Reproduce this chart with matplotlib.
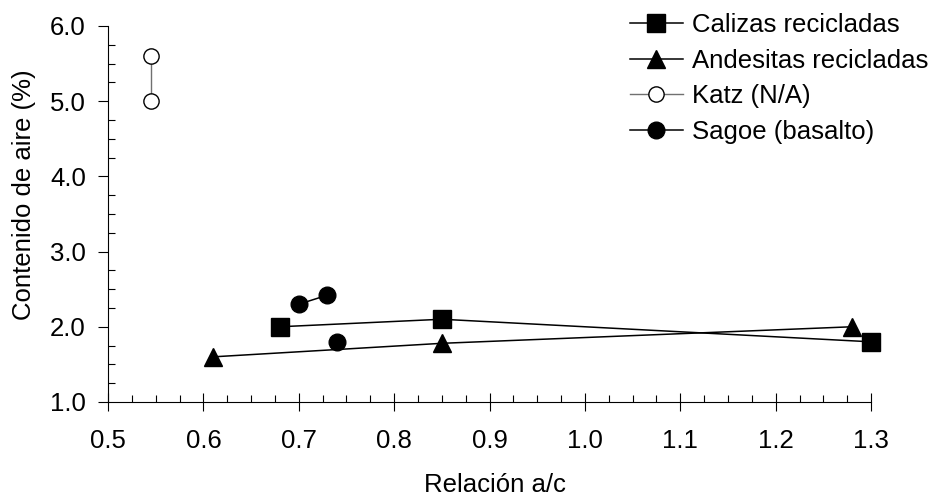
import numpy as np
import matplotlib
matplotlib.use("Agg")
import matplotlib.pyplot as plt
from matplotlib.ticker import MultipleLocator, FormatStrFormatter

plt.rcParams['font.family'] = ['Liberation Sans', 'DejaVu Sans']

# relacion a/c vs contenido de aire (%)
calizas_x = [0.68, 0.85, 1.30]
calizas_y = [2.0, 2.1, 1.8]

andesitas_x = [0.61, 0.85, 1.28]
andesitas_y = [1.6, 1.78, 2.0]

katz_x = [0.545, 0.545]
katz_y = [5.6, 5.0]

# NaN breaks the line before the last Sagoe point
sagoe_x = [0.70, 0.73, np.nan, 0.74]
sagoe_y = [2.3, 2.42, np.nan, 1.8]

FS = 18.5

fig = plt.figure(figsize=(9.36, 4.98), dpi=100)
ax = fig.add_axes([0.1154, 0.1928, 0.8152, 0.7552])

ax.plot(calizas_x, calizas_y, 'k-', marker='s', markersize=13, linewidth=1.1,
        label='Calizas recicladas', clip_on=False)
ax.plot(andesitas_x, andesitas_y, 'k-', marker='^', markersize=13, linewidth=1.1,
        label='Andesitas recicladas', clip_on=False)
ax.plot(katz_x, katz_y, '-', color='#707070', linewidth=1.0, marker='o',
        markersize=11, markerfacecolor='white', markeredgecolor='black',
        markeredgewidth=1.0, label='Katz (N/A)', clip_on=False)
ax.plot(sagoe_x, sagoe_y, 'k-', marker='o', markersize=12, linewidth=1.1,
        label='Sagoe (basalto)', clip_on=False)

ax.set_xlim(0.5, 1.3)
ax.set_ylim(1.0, 6.0)
ax.spines['top'].set_visible(False)
ax.spines['right'].set_visible(False)
ax.spines['left'].set_linewidth(0.8)
ax.spines['bottom'].set_linewidth(0.8)

ax.xaxis.set_major_locator(MultipleLocator(0.1))
ax.xaxis.set_minor_locator(MultipleLocator(0.025))
ax.yaxis.set_major_locator(MultipleLocator(1.0))
ax.yaxis.set_minor_locator(MultipleLocator(0.25))
ax.xaxis.set_major_formatter(FormatStrFormatter('%.1f'))
ax.yaxis.set_major_formatter(FormatStrFormatter('%.1f'))

ax.tick_params(axis='x', which='major', direction='inout', length=13, width=0.8,
               labelsize=FS, pad=13)
ax.tick_params(axis='x', which='minor', direction='in', length=5, width=0.8)
ax.tick_params(axis='y', which='major', direction='out', length=7, width=0.8,
               labelsize=FS, pad=9)
ax.tick_params(axis='y', which='minor', direction='in', length=5, width=0.8)

ax.set_xlabel('Relación a/c', fontsize=FS)
ax.set_ylabel('Contenido de aire (%)', fontsize=FS)
ax.xaxis.set_label_coords(0.5066, -0.19)
ax.yaxis.set_label_coords(-0.094, 0.55)

leg = ax.legend(loc='upper left', bbox_to_anchor=(630 / 936, 1 - 13 / 498),
                bbox_transform=fig.transFigure, frameon=False, fontsize=FS,
                borderpad=0, borderaxespad=0, handlelength=2.05,
                handletextpad=0.36, labelspacing=0.45)

fig.savefig('out.png', dpi=100)
